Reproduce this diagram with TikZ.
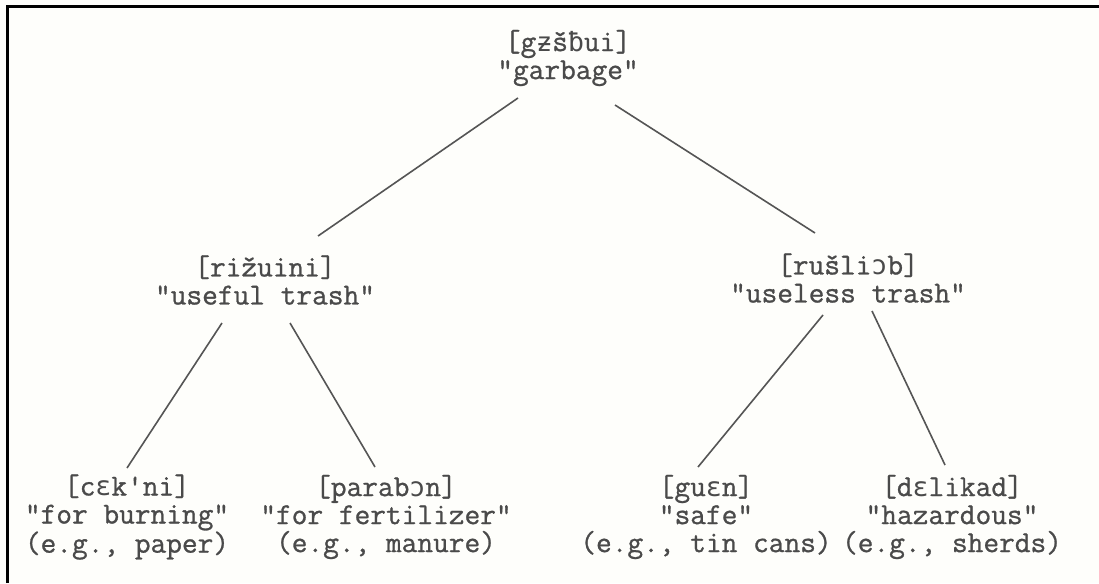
\documentclass[tikz,border=0pt]{standalone}
\usepackage{fontspec}
\newfontfamily\tw{Latin Modern Mono}[FakeBold=0.9]
\newfontfamily\ipaf{DejaVu Sans Mono}[Scale=0.87]
\newcommand\ip[1]{{\ipaf #1}}
\definecolor{ink}{HTML}{4A4A4A}
\definecolor{linec}{HTML}{555555}
\definecolor{paper}{HTML}{FEFEFB}
\tikzset{
  lbl/.style={align=center, inner sep=0pt, text=ink,
    font=\tw\fontsize{30.5}{28}\selectfont},
  branch/.style={draw=linec, line width=1.6pt},
  frame/.style={draw=black, line width=2.6pt}
}
\begin{document}
\begin{tikzpicture}[x=1pt,y=-1pt]
\useasboundingbox (0,0) rectangle (1099,583);
\fill[paper] (0,0) rectangle (1099,583);
\draw[frame] (7.5,583) -- (7.5,6.5) -- (1099,6.5);

\node[lbl] (top) at (568,58) {[g\ip{ƶ}š\ip{ƀ}ui]\\"garbage"};
\node[lbl] (ml) at (265,280) {[rižuini]\\"useful trash"};
\node[lbl] (mr) at (848,278) {[rušli\ip{ɔ}b]\\"useless trash"};
\node[lbl] (bl) at (127,517) {[c\ip{ɛ}k'ni]\\"for burning"\\(e.g., paper)};
\node[lbl] (b2) at (386,517) {[parab\ip{ɔ}n]\\"for fertilizer"\\(e.g., manure)};
\node[lbl] (b3) at (706,517) {[gu\ip{ɛ}n]\\"safe"\\(e.g., tin cans)};
\node[lbl] (b4) at (952,517) {[d\ip{ɛ}likad]\\"hazardous"\\(e.g., sherds)};

\draw[branch] ([shift={(-50,40)}]top.center) -- ([shift={(53,-44)}]ml.center);
\draw[branch] ([shift={(47,47)}]top.center) -- ([shift={(-33,-45)}]mr.center);
\draw[branch] ([shift={(-43,43)}]ml.center) -- ([shift={(0,-49)}]bl.center);
\draw[branch] ([shift={(25,43)}]ml.center) -- ([shift={(-11,-50)}]b2.center);
\draw[branch] ([shift={(-25,37)}]mr.center) -- ([shift={(-8,-50)}]b3.center);
\draw[branch] ([shift={(24,33)}]mr.center) -- ([shift={(-7,-52)}]b4.center);
\end{tikzpicture}
\end{document}
